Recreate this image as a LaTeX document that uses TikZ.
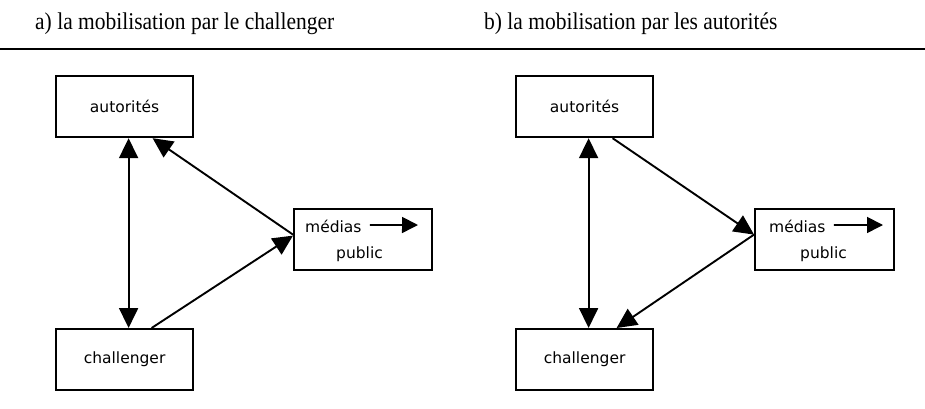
\documentclass[tikz,border=0pt]{standalone}
\usepackage{fontspec}
\setmainfont{Liberation Serif}
\newfontfamily\boxfont{DejaVu Sans}
\usetikzlibrary{arrows.meta}
\begin{document}
\begin{tikzpicture}[x=1pt,y=-1pt,
  box/.style={draw,line width=2.2pt,minimum width=137pt,minimum height=61pt,inner sep=0pt,anchor=north west},
  lbl/.style={font=\boxfont\fontsize{15.5}{18}\selectfont,inner sep=0pt},
  ttl/.style={font=\fontsize{21.5}{25}\selectfont,inner sep=0pt,anchor=base west},
  big/.style={line width=1.9pt,-{Triangle[length=20pt,width=19pt]}},
  dbl/.style={line width=1.9pt,{Triangle[length=20pt,width=19pt]}-{Triangle[length=20pt,width=19pt]}},
  small/.style={line width=1.7pt,-{Triangle[length=16pt,width=16pt]}}]
\useasboundingbox (0,0) rectangle (925,408);
% titles
\node[ttl] (ta) at (35,29) {\scalebox{1}[1.12]{a) la mobilisation par le challenger}};
\node[ttl] (tb) at (484,29) {\scalebox{1}[1.12]{b) la mobilisation par les autorités}};
\coordinate (rl) at (0,49);
\coordinate (rr) at (925,49);
\draw[line width=2.4pt] (rl) -- (rr);
% panel a
\node[box] (aut) at (55,75) {};
\node[lbl] at (aut.center) {autorités};
\node[box] (ch) at (55,328) {};
\node[lbl] at (ch.center) {challenger};
\node[box,minimum width=138pt] (med) at (293,208) {};
\node[lbl,anchor=base west] (mt) at (305,232) {médias};
\node[lbl,anchor=base west] (pt) at (336,258) {public};
\coordinate (mtip) at (418,225);
\draw[small] ([xshift=8pt,yshift=1pt]mt.east) -- (mtip);
\draw[dbl] ([xshift=4pt]aut.south) -- ([xshift=4pt]ch.north);
\draw[big] ([yshift=5pt]med.west) -- ([xshift=28pt]aut.south);
\draw[big] ([xshift=27pt]ch.north) -- ([yshift=4pt]med.west);
% panel b
\node[box] (aut2) at (515,75) {};
\node[lbl] at (aut2.center) {autorités};
\node[box] (ch2) at (515,328) {};
\node[lbl] at (ch2.center) {challenger};
\node[box,minimum width=139pt] (med2) at (754,208) {};
\node[lbl,anchor=base west] (mt2) at (769,232) {médias};
\node[lbl,anchor=base west] (pt2) at (800,258) {public};
\coordinate (mtip2) at (883,225);
\draw[small] ([xshift=8pt,yshift=1pt]mt2.east) -- (mtip2);
\draw[dbl] ([xshift=4pt]aut2.south) -- ([xshift=4pt]ch2.north);
\draw[big] ([xshift=28pt]aut2.south) -- ([yshift=5pt]med2.west);
\draw[big] ([yshift=5pt]med2.west) -- ([xshift=32pt]ch2.north);
\end{tikzpicture}
\end{document}
